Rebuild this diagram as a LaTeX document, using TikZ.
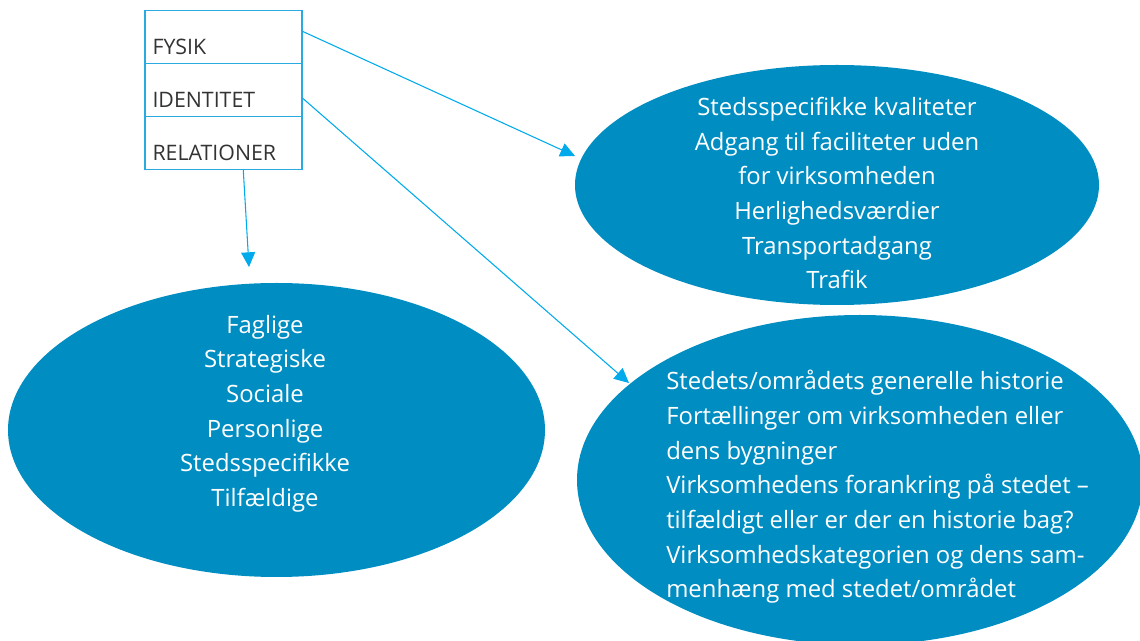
\documentclass[tikz,border=0pt]{standalone}
\usepackage{fontspec}
\setmainfont{Open Sans}
\usepackage{tikz}
\usetikzlibrary{arrows.meta, shapes.geometric}

\definecolor{boxblue}{RGB}{41,171,226}
\definecolor{arrowblue}{RGB}{0,170,235}
\definecolor{blobblue}{RGB}{0,142,194}
\definecolor{textgray}{RGB}{51,51,51}

\begin{document}
\begin{tikzpicture}[x=0.75pt, y=-0.75pt,
        cell/.style={draw=boxblue, line width=1.1pt, minimum width=117.75pt, minimum height=39.75pt, inner sep=0pt},
        celltext/.style={anchor=base west, text=textgray, font=\fontsize{16}{18}\selectfont, inner sep=0pt},
        blob/.style={ellipse, fill=blobblue, inner sep=0pt},
        blobtext/.style={text=white, font=\fontsize{17.9}{26}\selectfont, inner sep=0pt},
        link/.style={arrowblue, line width=0.8pt, -{Triangle[length=11pt, width=10.5pt]}}]
        \useasboundingbox (0,0) rectangle (1140,641);

        % Box with three rows
        \node[cell] (fysik) at (223.5,37) {};
        \node[cell] (identitet) at (223.5,90) {};
        \node[cell] (relationer) at (223.5,143) {};
        \node[celltext] (fysiktxt) at ([xshift=6pt, yshift=7.5pt]fysik.south west) {FYSIK};
        \node[celltext] (identitettxt) at ([xshift=6pt, yshift=7.5pt]identitet.south west) {IDENTITET};
        \node[celltext] (relationertxt) at ([xshift=6pt, yshift=7.5pt]relationer.south west) {RELATIONER};

        % Ellipses
        \node[blob, minimum width=393pt, minimum height=180pt] (kvaliteter) at (837,185) {};
        \node[blob, minimum width=402.75pt, minimum height=220.5pt] (relationerblob) at (276.5,430) {};
        \node[blob, minimum width=424.5pt, minimum height=247.5pt] (historie) at (860,480) {};

        \node[blobtext, align=center] (kvalitetertxt) at (837,193) {Stedsspecifikke kvaliteter\\Adgang til faciliteter uden\\for virksomheden\\Herlighedsværdier\\Transportadgang\\Trafik};
        \node[blobtext, align=center] (relationertxt2) at (265,413.5) {Faglige\\Strategiske\\Sociale\\Personlige\\Stedsspecifikke\\Tilfældige};
        \node[blobtext, align=left, anchor=west] (historietxt) at (666,487) {Stedets/områdets generelle historie\\Fortællinger om virksomheden eller\\dens bygninger\\Virksomhedens forankring på stedet –\\tilfældigt eller er der en historie bag?\\Virksomhedskategorien og dens sam-\\menhæng med stedet/området};

        % Arrow ends
        \coordinate (fysikend) at (575,156);
        \coordinate (identitetend) at (629,383);
        \coordinate (relationerend) at (249,267);

        % Arrows
        \draw[link] (fysik.4) -- (fysikend);
        \draw[link] (identitet.-6) -- (identitetend);
        \draw[link] (relationer.-54) -- (relationerend);
    \end{tikzpicture}
\end{document}
